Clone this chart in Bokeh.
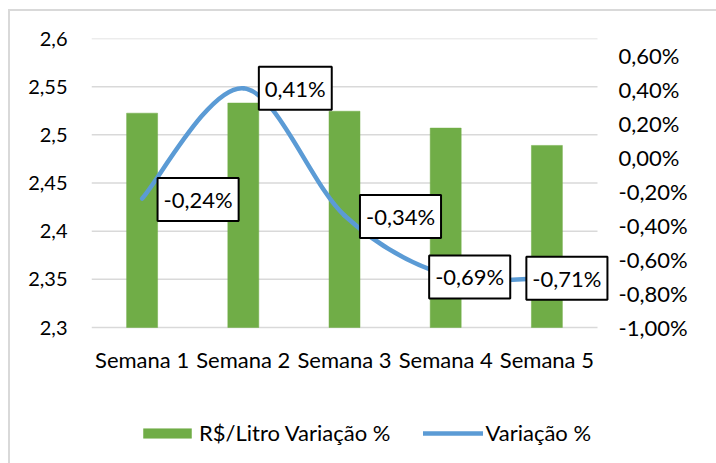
from bokeh.plotting import figure
from bokeh.models import (Range1d, LinearAxis, FixedTicker, CustomJSTickFormatter,
                          ColumnDataSource, Label, Legend, LegendItem)
from bokeh.embed import file_html
from bokeh.resources import INLINE

# ---- data ----
semanas = ["Semana 1", "Semana 2", "Semana 3", "Semana 4", "Semana 5"]
preco_litro = [2.5225, 2.533, 2.5245, 2.507, 2.489]
variacao = [-0.24, 0.41, -0.34, -0.69, -0.71]
rotulos = ["-0,24%", "0,41%", "-0,34%", "-0,69%", "-0,71%"]
ticks_esq = [2.3, 2.35, 2.4, 2.45, 2.5, 2.55, 2.6]
ticks_dir = [-1.0, -0.8, -0.6, -0.4, -0.2, 0.0, 0.2, 0.4, 0.6]

FONT = "Lato"
TXT = "#000000"
GREEN = "#70AD47"
BLUE = "#5B9BD5"
GRID = "#D9D9D9"

# ---- layout (pixels) ----
W, H = 716, 463
PLOT_TOP, PLOT_BOTTOM = 38, 327          # value axis span
FRAME_L, FRAME_R = 91, 611
CAT_W = 101.2

xs = list(range(1, len(semanas) + 1))
x_lo, x_hi = 0.5, len(semanas) + 0.5
extra = (FRAME_R - FRAME_L - CAT_W * len(semanas)) / CAT_W

# value ranges extended below so the frame also holds the legend area
l_lo, l_hi = ticks_esq[0], ticks_esq[-1]
r_lo, r_hi = -1.0, 0.703
k = (H - PLOT_BOTTOM) / (PLOT_BOTTOM - PLOT_TOP)

p = figure(width=W, height=H, output_backend="svg", toolbar_location=None,
           x_range=Range1d(x_lo, x_hi + extra),
           y_range=Range1d(l_lo - k * (l_hi - l_lo), l_hi),
           min_border_left=FRAME_L, min_border_right=W - FRAME_R,
           min_border_top=PLOT_TOP, min_border_bottom=0)
p.extra_y_ranges = {"var": Range1d(r_lo - k * (r_hi - r_lo), r_hi)}
p.outline_line_color = None
p.background_fill_alpha = 0
p.border_fill_alpha = 0
p.styles = {"background": "linear-gradient(#D9D9D9,#D9D9D9) 8px 9px / 2px 100% no-repeat, "
                          "linear-gradient(#D9D9D9,#D9D9D9) 8px 9px / 100% 2px no-repeat, white"}

# axes
p.xaxis.ticker = FixedTicker(ticks=xs)
p.xaxis.major_label_overrides = {x: s for x, s in zip(xs, semanas)}
p.xaxis.fixed_location = l_lo
p.yaxis.ticker = FixedTicker(ticks=ticks_esq)
p.yaxis.formatter = CustomJSTickFormatter(
    code="return (Math.round(tick*100)/100).toString().replace('.', ',');")

right = LinearAxis(y_range_name="var", ticker=FixedTicker(ticks=ticks_dir),
                   formatter=CustomJSTickFormatter(
                       code="return tick.toFixed(2).replace('.', ',') + '%';"))
p.add_layout(right, "right")

for ax in [p.xaxis[0], p.yaxis[0], right]:
    ax.axis_line_color = None
    ax.major_tick_line_color = None
    ax.minor_tick_line_color = None
    ax.major_tick_in = 0
    ax.major_tick_out = 0
    ax.major_label_text_font = FONT
    ax.major_label_text_color = TXT
p.yaxis[0].major_label_text_font_size = "20px"
right.major_label_text_font_size = "22px"
p.xaxis[0].major_label_text_font_size = "22px"
p.yaxis[0].major_label_standoff = 24
right.major_label_standoff = 7
p.xaxis[0].major_label_standoff = 18

# horizontal gridlines across the category span
p.xgrid.grid_line_color = None
p.ygrid.grid_line_color = None
p.segment(x0=[x_lo] * len(ticks_esq), x1=[x_hi] * len(ticks_esq), y0=ticks_esq,
          y1=ticks_esq, line_color=GRID, line_width=1.5)

# bars
bars = p.vbar(x=xs, top=preco_litro, bottom=l_lo, width=0.306,
              fill_color=GREEN, line_color=GREEN, line_width=0.5)

# smoothed line (Catmull-Rom style bezier through the data points)
n = len(xs)
pts = list(zip(xs, variacao))
seg = dict(x0=[], y0=[], x1=[], y1=[], cx0=[], cy0=[], cx1=[], cy1=[])
for i in range(n - 1):
    a = pts[max(i - 1, 0)]
    b = pts[i]
    c = pts[i + 1]
    d = pts[min(i + 2, n - 1)]
    seg["x0"].append(b[0]); seg["y0"].append(b[1])
    seg["x1"].append(c[0]); seg["y1"].append(c[1])
    seg["cx0"].append(b[0] + (c[0] - a[0]) / 6); seg["cy0"].append(b[1] + (c[1] - a[1]) / 6)
    seg["cx1"].append(c[0] - (d[0] - b[0]) / 6); seg["cy1"].append(c[1] - (d[1] - b[1]) / 6)
curve = p.bezier(x0="x0", y0="y0", x1="x1", y1="y1", cx0="cx0", cy0="cy0",
                 cx1="cx1", cy1="cy1", source=ColumnDataSource(seg),
                 y_range_name="var", line_color=BLUE, line_width=4.5, line_cap="round")

# data labels
off_x = [56, 52, 56, 24, 20]
off_y = [-1, 0, -1, -2, 0]
for x, y, t, ox, oy in zip(xs, variacao, rotulos, off_x, off_y):
    p.add_layout(Label(x=x, y=y, text=t, y_range_name="var",
                       x_offset=ox, y_offset=oy, text_align="center",
                       text_baseline="middle", text_font=FONT, text_font_size="22px",
                       text_color=TXT, background_fill_color="white",
                       border_line_color="black", border_line_width=2, padding=(6, 8)))

# legend
legend = Legend(items=[LegendItem(label="R$/Litro Variação %", renderers=[bars]),
                       LegendItem(label="Variação %", renderers=[curve])],
                location=(46, 17), orientation="horizontal", glyph_width=60,
                glyph_height=12, label_standoff=2, padding=0, margin=0, spacing=33,
                border_line_color=None, background_fill_alpha=0,
                label_text_font=FONT, label_text_font_size="22px", label_text_color=TXT)
p.add_layout(legend)

open("out.html", "w").write(file_html(p, INLINE))
